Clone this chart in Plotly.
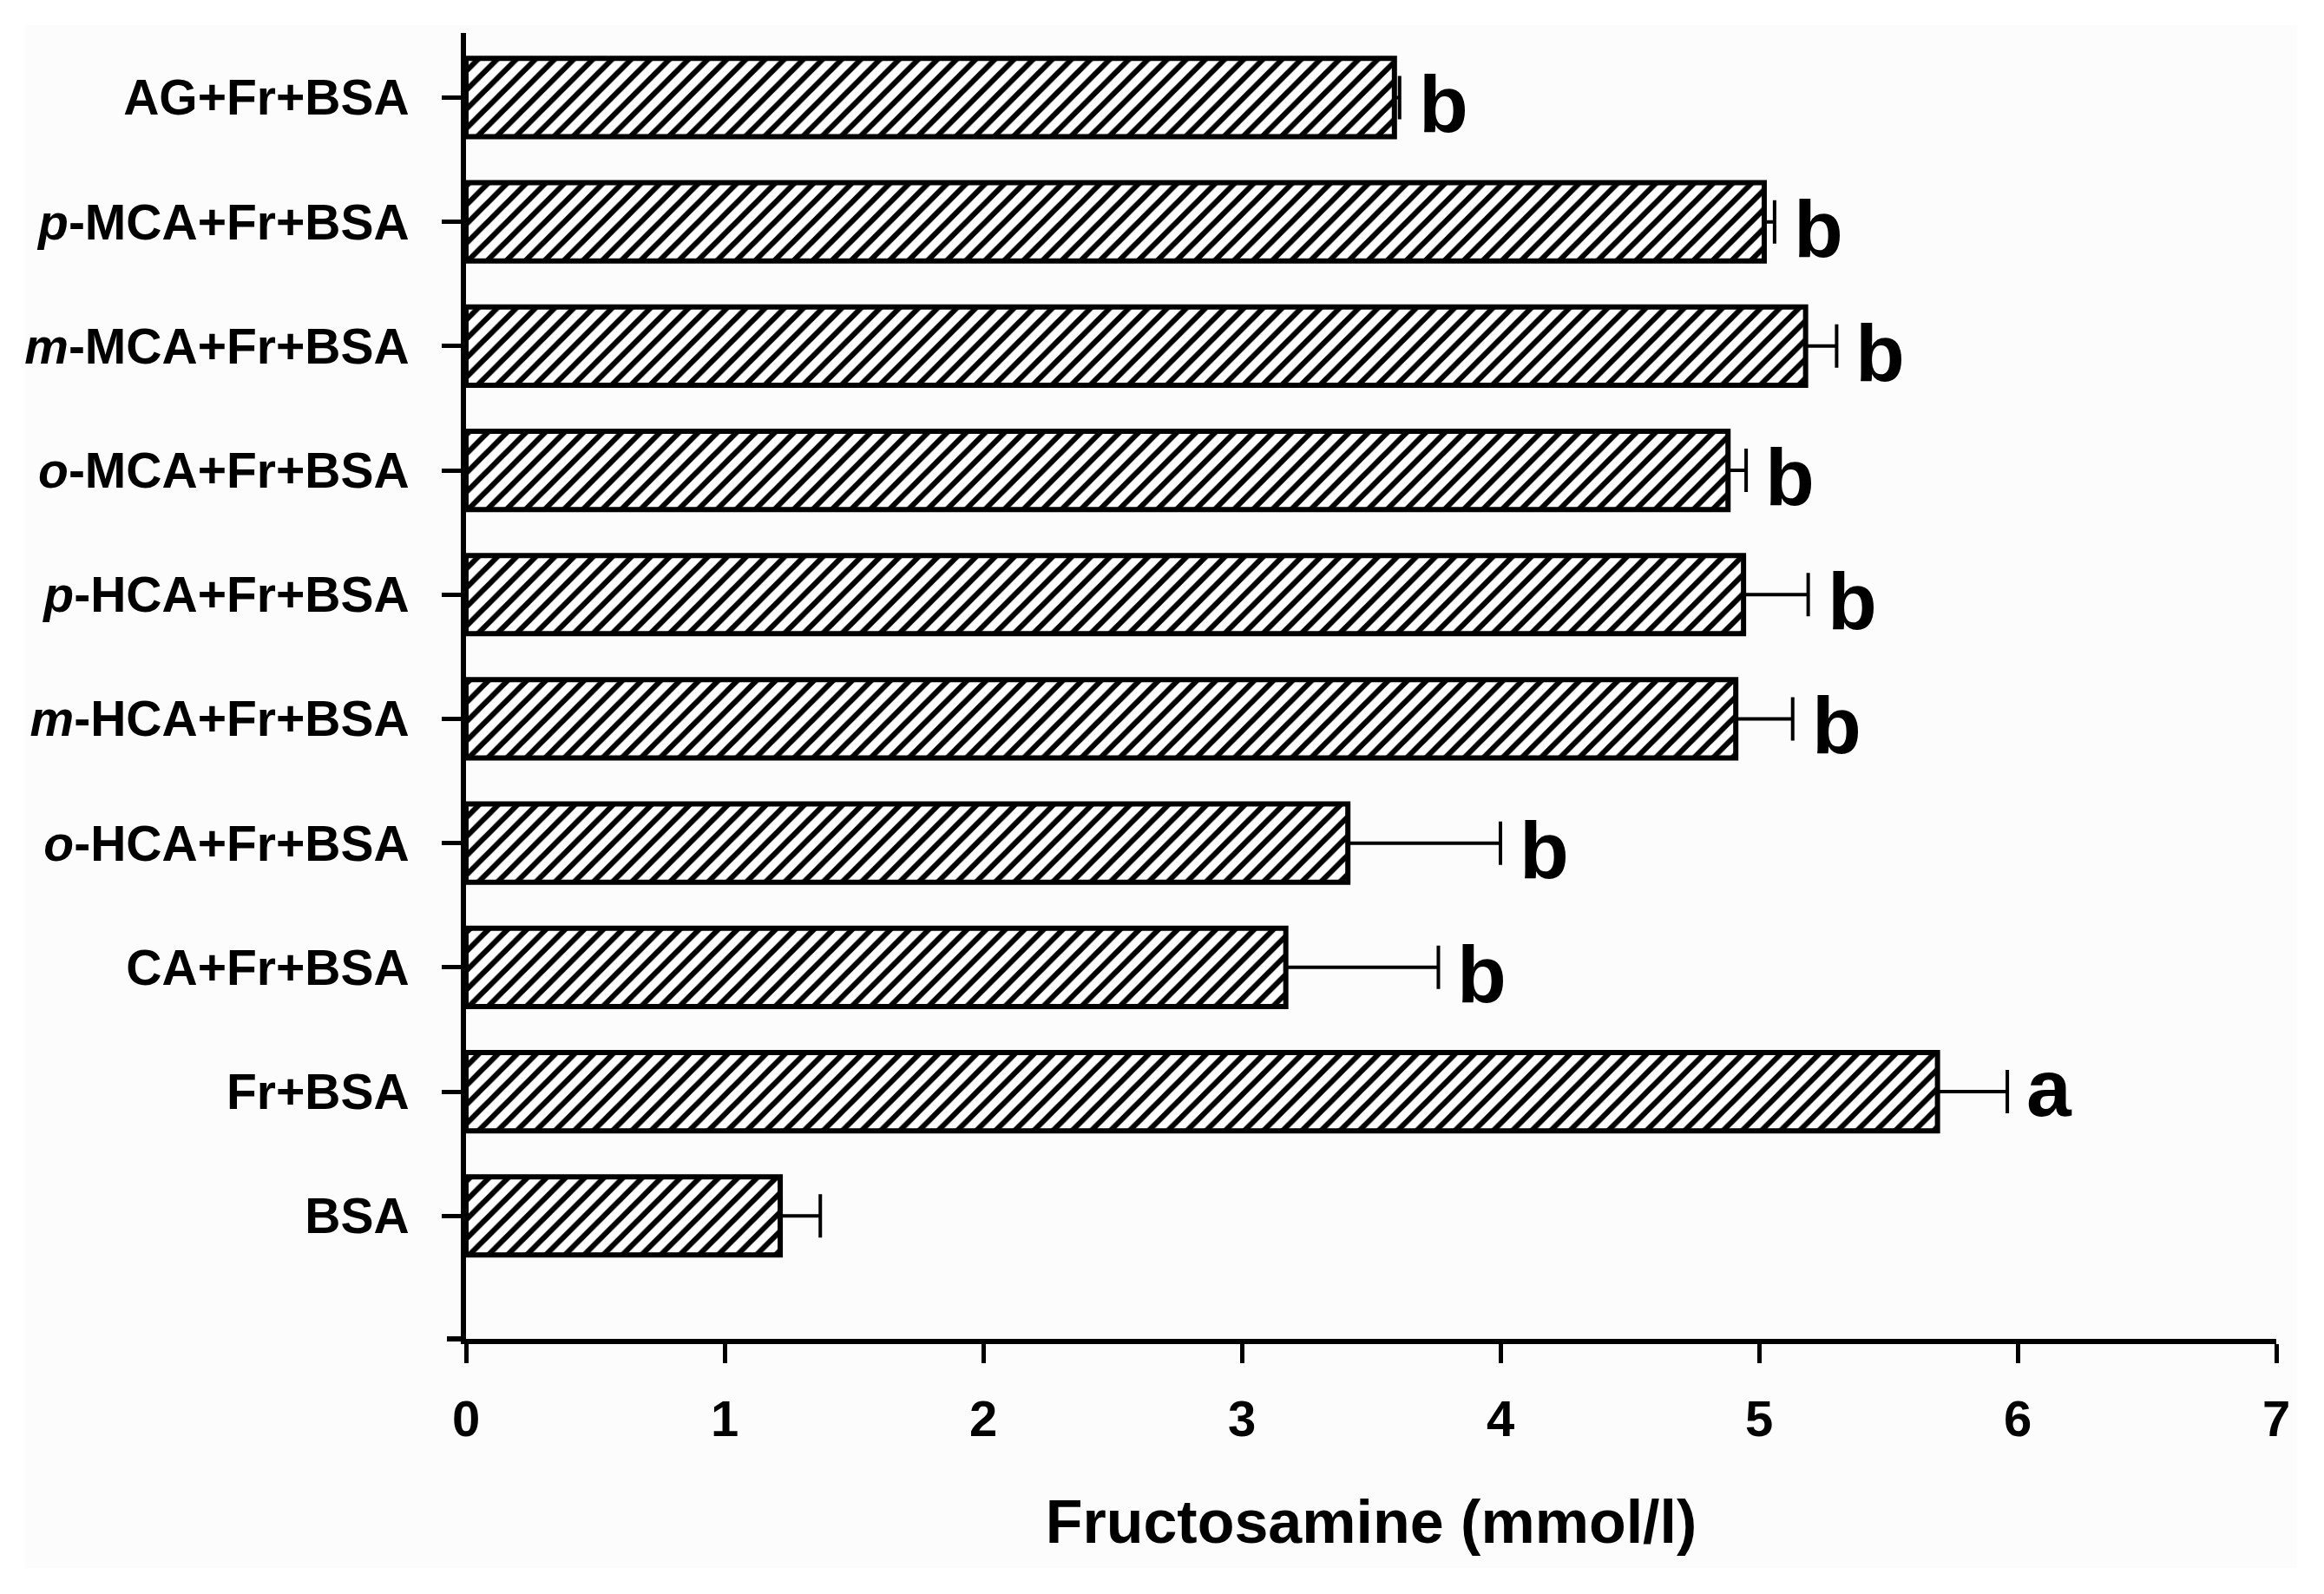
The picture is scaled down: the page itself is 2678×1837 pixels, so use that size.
import plotly.graph_objects as go

# Data (bottom to top as drawn)
categories = [
    "BSA",
    "Fr+BSA",
    "CA+Fr+BSA",
    "<i>o</i>-HCA+Fr+BSA",
    "<i>m</i>-HCA+Fr+BSA",
    "<i>p</i>-HCA+Fr+BSA",
    "<i>o</i>-MCA+Fr+BSA",
    "<i>m</i>-MCA+Fr+BSA",
    "<i>p</i>-MCA+Fr+BSA",
    "AG+Fr+BSA",
]
values = [1.215, 5.69, 3.17, 3.41, 4.91, 4.94, 4.88, 5.18, 5.02, 3.59]
errors = [0.155, 0.27, 0.59, 0.59, 0.22, 0.25, 0.07, 0.12, 0.04, 0.02]
letters = ["", "a", "b", "b", "b", "b", "b", "b", "b", "b"]
x_ticks = [0, 1, 2, 3, 4, 5, 6, 7]

W, H = 2678, 1837
ML, MR, MT, MB = 537, 55, 38, 294
PW = W - ML - MR
PH = H - MT - MB

FONT = "Arial, Liberation Sans, sans-serif"

fig = go.Figure()
fig.add_trace(go.Bar(
    x=values,
    y=categories,
    orientation="h",
    width=0.63,
    marker=dict(
        color="white",
        line=dict(color="black", width=6),
        pattern=dict(shape="/", fgcolor="black", bgcolor="white",
                     size=15.6, solidity=0.4, fillmode="replace"),
    ),
    error_x=dict(
        type="data", array=errors, arrayminus=[0] * len(errors),
        symmetric=False, color="black", thickness=4, width=25,
    ),
    hoverinfo="skip",
    showlegend=False,
))

for cat, v, e, lt in zip(categories, values, errors, letters):
    if not lt:
        continue
    fig.add_annotation(
        x=v + e, y=cat, text=lt, showarrow=False,
        xanchor="left", yanchor="middle", xshift=20,
        yshift=-8 if lt == "b" else 4,
        font=dict(family=FONT, size=93, color="black", weight="bold"),
    )

# light outer panel
fig.add_shape(
    type="rect", xref="paper", yref="paper", layer="below",
    x0=(29 - ML) / PW, x1=(2647 - ML) / PW,
    y0=(MT + PH - 1807) / PH, y1=(MT + PH - 29) / PH,
    fillcolor="#fcfcfc", line=dict(width=0),
)
# small extension of the x axis line to the left of the y axis
fig.add_shape(
    type="line", xref="paper", yref="paper",
    x0=-22 / PW, x1=0, y0=0, y1=0,
    line=dict(color="black", width=6),
)

fig.update_layout(
    width=W, height=H,
    margin=dict(l=ML, r=MR, t=MT, b=MB, pad=0),
    paper_bgcolor="white",
    plot_bgcolor="white",
    font=dict(family=FONT, color="black"),
    bargap=0.37,
    xaxis=dict(
        range=[0, 7], tickvals=x_ticks, ticktext=[str(t) for t in x_ticks],
        showline=True, linecolor="black", linewidth=6,
        ticks="outside", ticklen=22, tickwidth=5, tickcolor="black",
        showgrid=False, zeroline=False,
        tickfont=dict(family=FONT, size=58, color="black", weight="bold"),
        ticklabelstandoff=14,
        title=dict(text="Fructosamine (mmol/l)", standoff=65,
                   font=dict(family=FONT, size=70, color="black", weight="bold")),
    ),
    yaxis=dict(
        type="category", categoryorder="array", categoryarray=categories,
        range=[-0.99, 9.52],
        showline=True, linecolor="black", linewidth=6,
        ticks="outside", ticklen=22, tickwidth=5, tickcolor="black",
        showgrid=False, zeroline=False,
        tickfont=dict(family=FONT, size=57, color="black", weight="bold"),
        ticklabelstandoff=26,
    ),
)

fig.write_html("out.html", config={"displayModeBar": False},
               post_script="document.body.style.margin='0';")
